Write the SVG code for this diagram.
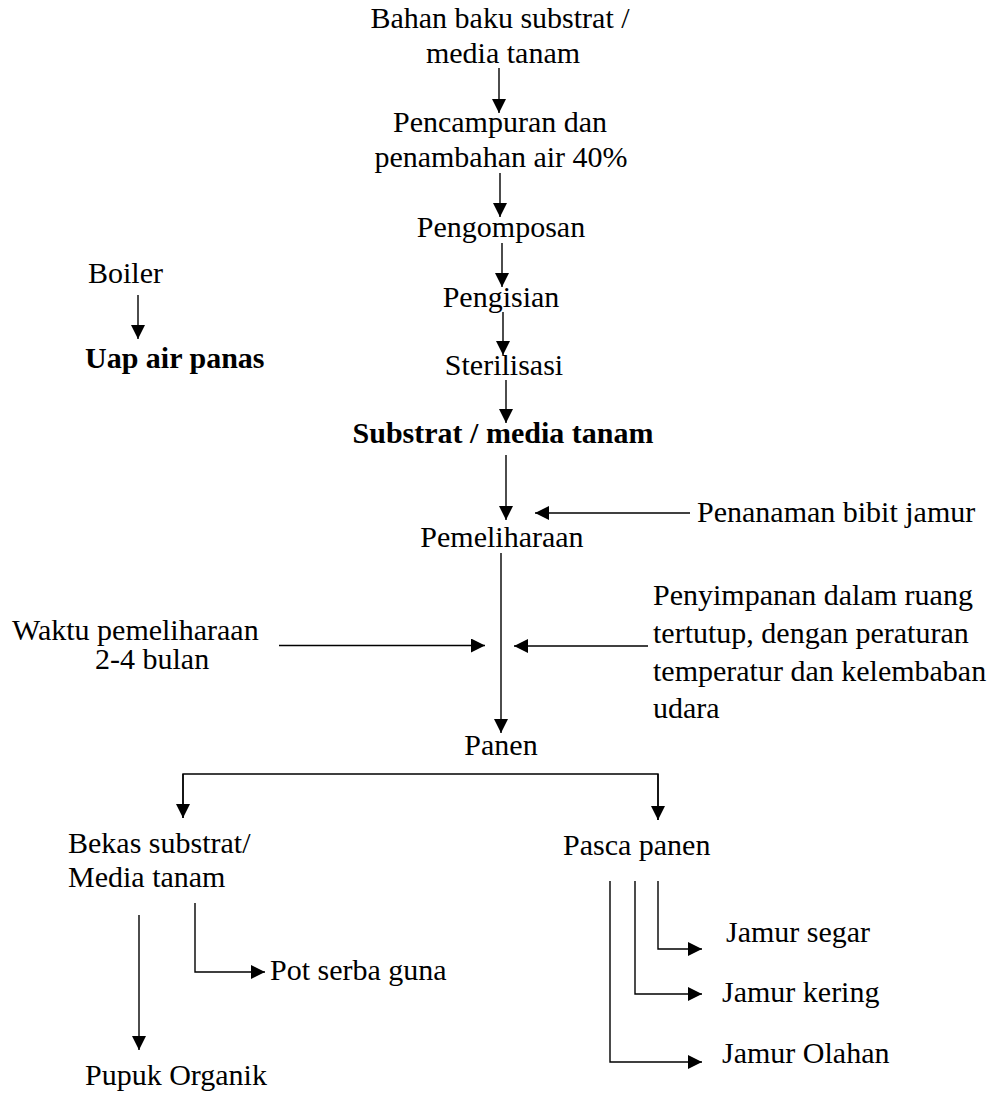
<svg xmlns="http://www.w3.org/2000/svg" width="995" height="1095" viewBox="0 0 995 1095">
<defs>
<marker id="ah" markerWidth="14" markerHeight="14" refX="14" refY="7" orient="auto" markerUnits="userSpaceOnUse">
<path d="M0,0 L14,7 L0,14 z" fill="#000"/>
</marker>
<style>
text{font-family:"Liberation Serif","Times New Roman",serif;font-size:30px;fill:#000}
.b{font-weight:bold}
.m{text-anchor:middle}
.c{fill:none;stroke:#000;stroke-width:1.4}
.a{marker-end:url(#ah)}
</style>
</defs>
<rect width="995" height="1095" fill="#fff"/>
<g id="n-bahan"><text class="m" x="500" y="28">Bahan baku substrat /</text><text class="m" x="503" y="63">media tanam</text></g>
<g id="n-pencampuran"><text class="m" x="500" y="132">Pencampuran dan</text><text class="m" x="501" y="167">penambahan air 40%</text></g>
<g id="n-pengomposan"><text class="m" x="501" y="237">Pengomposan</text></g>
<g id="n-pengisian"><text class="m" x="501" y="307">Pengisian</text></g>
<g id="n-sterilisasi"><text class="m" x="504" y="375">Sterilisasi</text></g>
<g id="n-substrat"><text class="m b" x="503" y="443">Substrat / media tanam</text></g>
<g id="n-boiler"><text x="88" y="283">Boiler</text></g>
<g id="n-uap"><text class="b" x="85" y="368">Uap air panas</text></g>
<g id="n-pemeliharaan"><text class="m" x="502" y="547">Pemeliharaan</text></g>
<g id="n-penanaman"><text x="697" y="522">Penanaman bibit jamur</text></g>
<g id="n-waktu"><text x="12" y="640">Waktu pemeliharaan</text><text x="95" y="669">2-4 bulan</text></g>
<g id="n-penyimpanan"><text x="653" y="605">Penyimpanan dalam ruang</text><text x="653" y="643">tertutup, dengan peraturan</text><text x="653" y="681">temperatur dan kelembaban</text><text x="653" y="718">udara</text></g>
<g id="n-panen"><text class="m" x="501" y="755">Panen</text></g>
<g id="n-bekas"><text x="68" y="853">Bekas substrat/</text><text x="68" y="887">Media tanam</text></g>
<g id="n-pasca"><text x="563" y="855">Pasca panen</text></g>
<g id="n-pupuk"><text x="85" y="1085">Pupuk Organik</text></g>
<g id="n-pot"><text x="270" y="980">Pot serba guna</text></g>
<g id="n-segar"><text x="726" y="942">Jamur segar</text></g>
<g id="n-kering"><text x="722" y="1002">Jamur kering</text></g>
<g id="n-olahan"><text x="722" y="1063">Jamur Olahan</text></g>
<g id="connectors">
<line class="c a" x1="499" y1="68" x2="499" y2="113"/>
<line class="c a" x1="500" y1="173" x2="500" y2="217"/>
<line class="c a" x1="502" y1="243" x2="502" y2="287"/>
<line class="c a" x1="503" y1="312" x2="503" y2="355"/>
<line class="c a" x1="506" y1="380" x2="506" y2="423"/>
<line class="c a" x1="138" y1="295" x2="138" y2="339"/>
<line class="c a" x1="506" y1="455" x2="506" y2="520"/>
<line class="c a" x1="690" y1="513" x2="535" y2="513"/>
<line class="c a" x1="501" y1="553" x2="501" y2="733"/>
<line class="c a" x1="279" y1="645.5" x2="485" y2="645.5"/>
<line class="c a" x1="648" y1="646" x2="514" y2="646"/>
<polyline class="c" points="183,818 183,774 658,774 658,820"/>
<line class="c a" x1="183" y1="774" x2="183" y2="818"/>
<line class="c a" x1="658" y1="774" x2="658" y2="820"/>
<line class="c a" x1="139" y1="915" x2="139" y2="1050"/>
<polyline class="c a" points="195,903 195,972 265,972"/>
<polyline class="c a" points="658,881 658,949 702,949"/>
<polyline class="c a" points="635,881 635,994 702,994"/>
<polyline class="c a" points="610,881 610,1062 702,1062"/>
</g>
</svg>
